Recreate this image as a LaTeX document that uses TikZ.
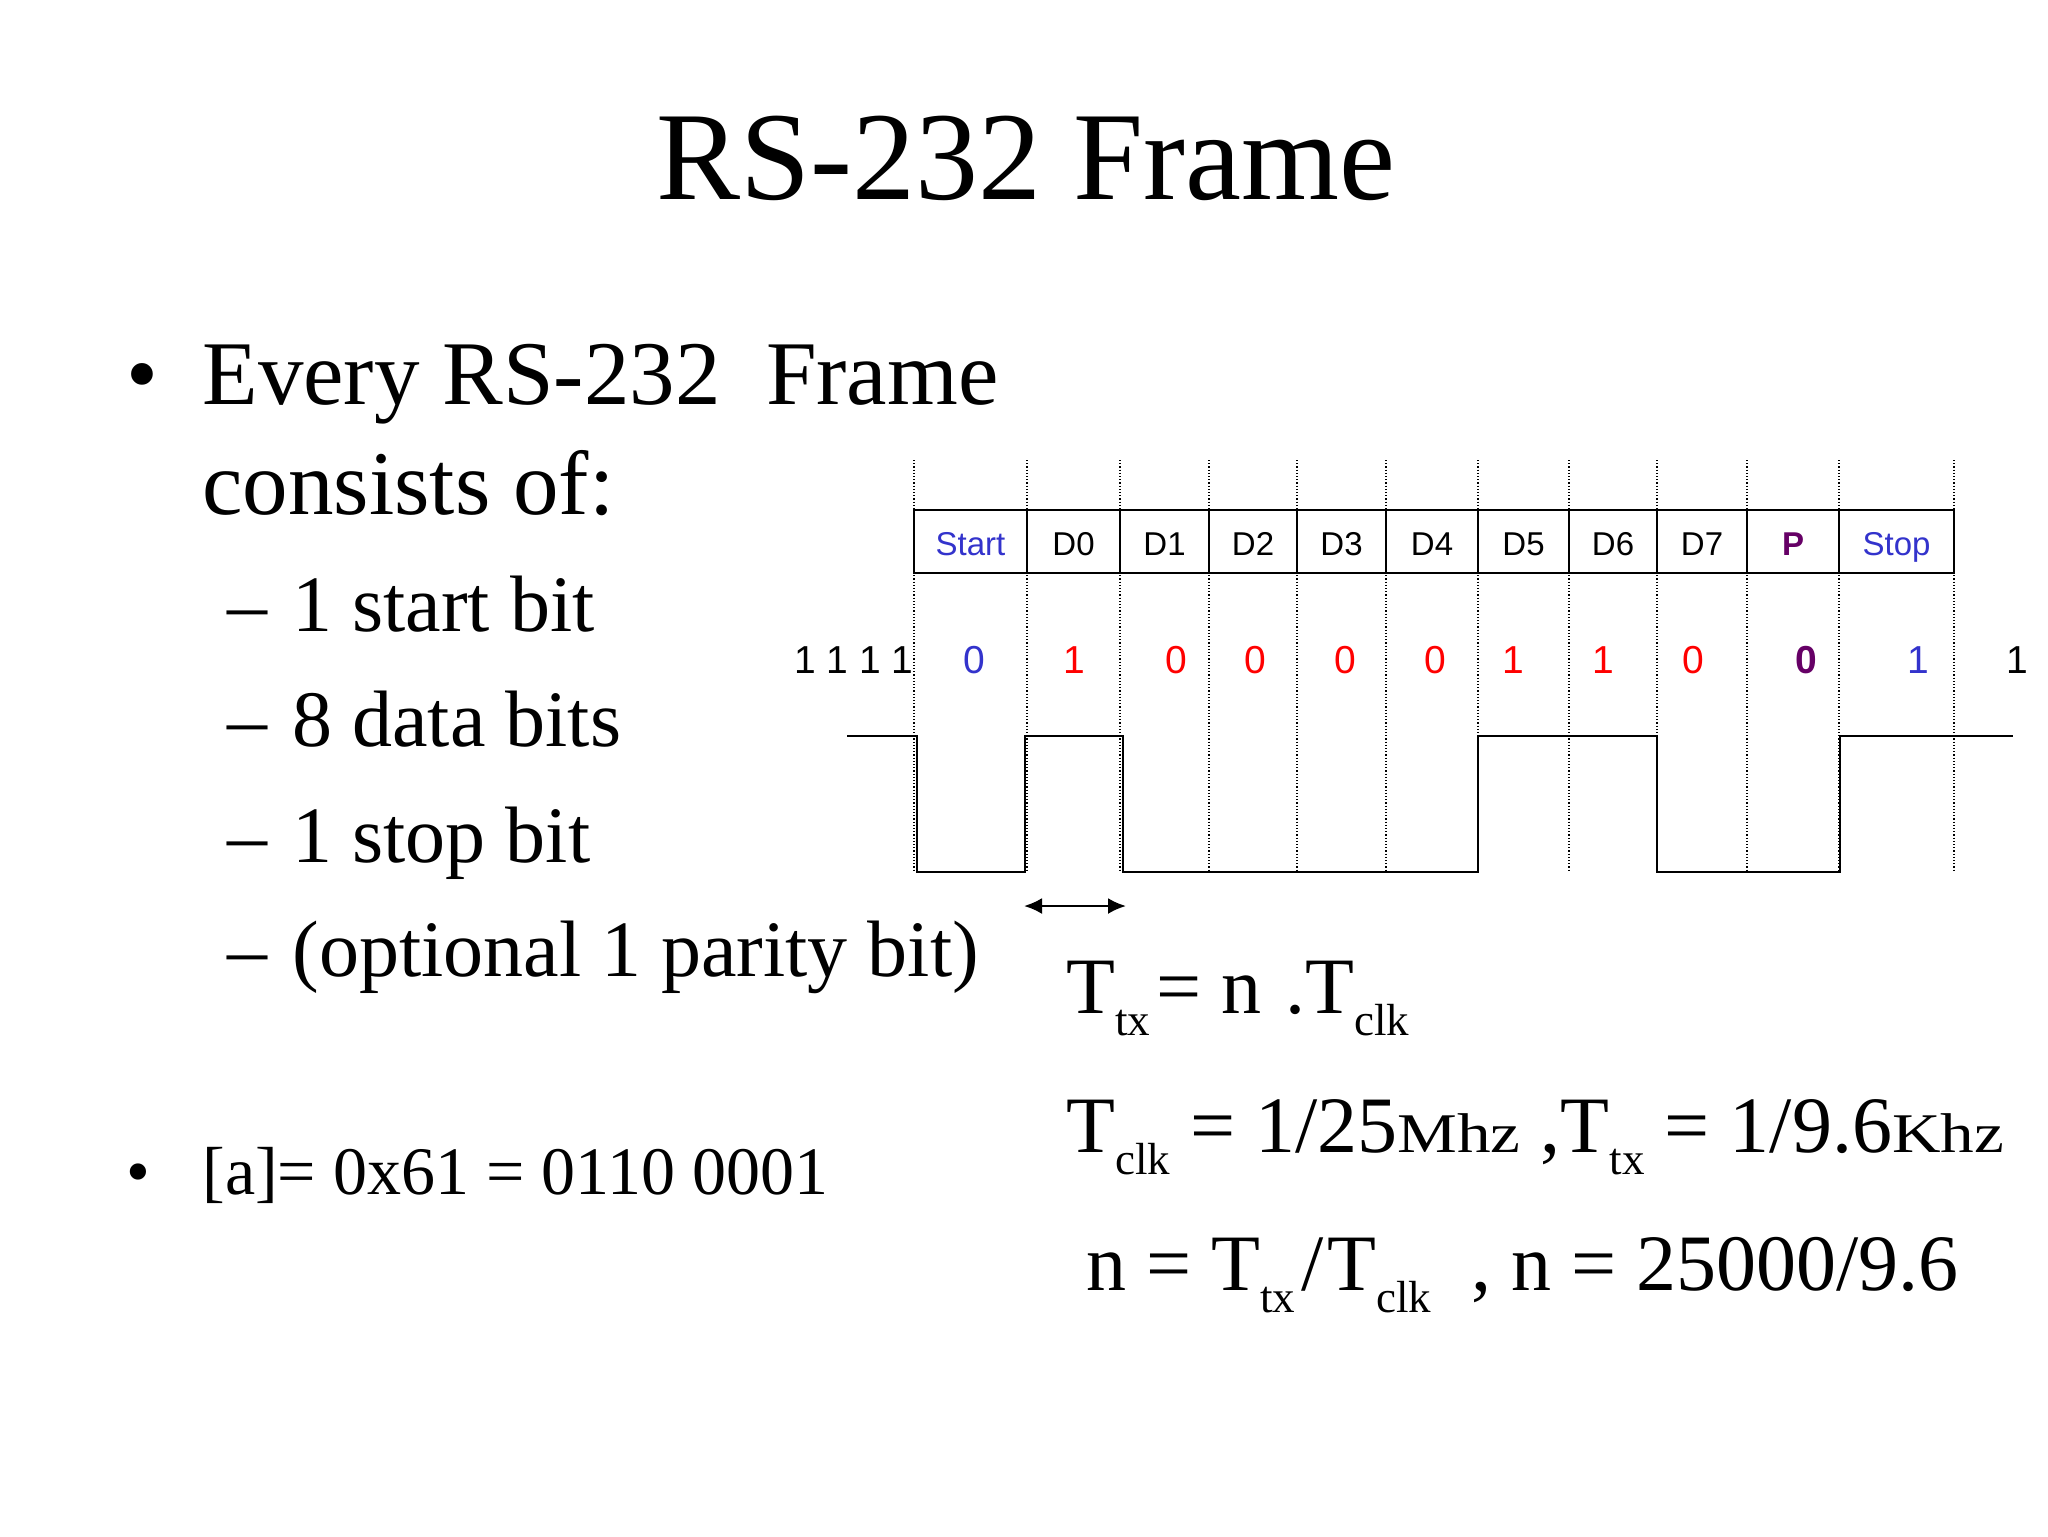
\documentclass[tikz,border=0pt]{standalone}
\usepackage{fontspec}
\setmainfont{Liberation Serif}
\setsansfont{Liberation Sans}
\usepackage{graphicx}
\usetikzlibrary{arrows.meta}
\definecolor{startblue}{RGB}{51,51,204}
\definecolor{bitred}{RGB}{255,0,0}
\definecolor{paritypurple}{RGB}{102,0,102}
\newcommand{\fs}[1]{\fontsize{#1}{#1}\selectfont}
\newcommand{\lowsub}[1]{\raisebox{-11pt}{\fs{22.5pt}#1}}
\newcommand{\unitw}[1]{\scalebox{1.2}[1]{\fs{28pt}#1}}
\tikzset{
  txt/.style={inner sep=0pt, anchor=base west},
  hdr/.style={inner sep=0pt, anchor=base, font=\sffamily\fs{16.5pt}},
  bitv/.style={inner sep=0pt, anchor=base, font=\sffamily\fs{19.5pt}},
  grid/.style={densely dotted, line width=0.6pt},
  wave/.style={line width=1pt},
}
\begin{document}
\begin{tikzpicture}[x=0.5pt, y=-0.5pt]
		\useasboundingbox[fill=white] (0,0) rectangle (2048,1536);
		
		% 标题
		\node[inner sep=0pt, anchor=base, font=\fs{63pt}] (title) at (1026,199) {RS-232 Frame};
		
		% 列表
		\node[txt, font=\fs{45.5pt}] (dot1) at (126,404) {•};
		\node[txt, font=\fs{45.5pt}] (every) at (202,404) {Every RS-232\ \ Frame};
		\node[txt, font=\fs{45.5pt}] (consists) at (202,514) {consists of:};
		\foreach \y/\t [count=\i] in {631/1 start bit, 746/8 data bits, 862/1 stop bit, 976/(optional 1 parity bit)} {
			\node[txt, font=\fs{40pt}] (dash\i) at (227,\y) {–};
			\node[txt, font=\fs{40pt}] (item\i) at (292,\y) {\t};
		}
		\node[txt, font=\fs{34pt}] (dot2) at (126,1194) {•};
		\node[txt, font=\fs{34pt}] (ascii) at (202,1194) {[a]= 0x61 = 0110 0001};
		
		% 帧格子
		\foreach \xa/\xb/\lab/\col [count=\i] in {914/1027/Start/startblue, 1027/1120/D0/black,
			1120/1209/D1/black, 1209/1297/D2/black, 1297/1386/D3/black, 1386/1478/D4/black,
			1478/1569/D5/black, 1569/1657/D6/black, 1657/1747/D7/black,
			1747/1839/{\textbf{P}}/paritypurple, 1839/1954/Stop/startblue} {
			\draw[line width=1pt] (\xa,510) rectangle (\xb,573);
			\node[hdr, text=\col] (h\i) at ({(\xa+\xb)/2},555) {\lab};
		}
		
		% 虚线
		\foreach \x in {914,1027,1120,1209,1297,1386,1478,1569,1657,1747,1839,1954}
		\draw[grid] (\x,460) -- (\x,872);
		
		% 比特值
		\node[inner sep=0pt, anchor=base east, font=\sffamily\fs{19.5pt}] (idle) at (914,673) {1 1 1 1};
		\foreach \x/\v/\col [count=\i] in {974/0/startblue, 1074/1/bitred, 1176/0/bitred, 1255/0/bitred,
			1345/0/bitred, 1435/0/bitred, 1513/1/bitred, 1603/1/bitred, 1693/0/bitred,
			1806/{\textbf{0}}/paritypurple, 1918/1/startblue, 2017/1/black}
		\node[bitv, text=\col] (v\i) at (\x,673) {\v};
		
		% 波形
		\draw[wave] (847,736) -- (917,736) -- (917,872) -- (1025,872) -- (1025,736)
		-- (1123,736) -- (1123,872) -- (1478,872) -- (1478,736) -- (1657,736)
		-- (1657,872) -- (1840,872) -- (1840,736) -- (2013,736);
		
		% 位宽
		\coordinate (ta) at (1024,906);
		\coordinate (tb) at (1126,906);
		\draw[{Latex[length=9pt,width=8pt]}-{Latex[length=9pt,width=8pt]}, line width=1.2pt] (ta) -- (tb);
		
		% 公式
		\node[txt, font=\fs{40pt}] (eq1) at (1066,1013) {T\lowsub{tx}\kern3pt= n \kern2pt.T\lowsub{clk}};
		\node[txt, font=\fs{40pt}] (eq2) at (1066,1152) {T\lowsub{clk} = 1/25\unitw{Mhz} ,T\lowsub{tx} = 1/9.6\unitw{Khz}};
		\node[txt, font=\fs{40pt}] (eq3) at (1086,1290) {n = T\lowsub{tx}\kern3pt/\kern2pt T\lowsub{clk}\ \ , n = 25000/9.6};
	\end{tikzpicture}
\end{document}
